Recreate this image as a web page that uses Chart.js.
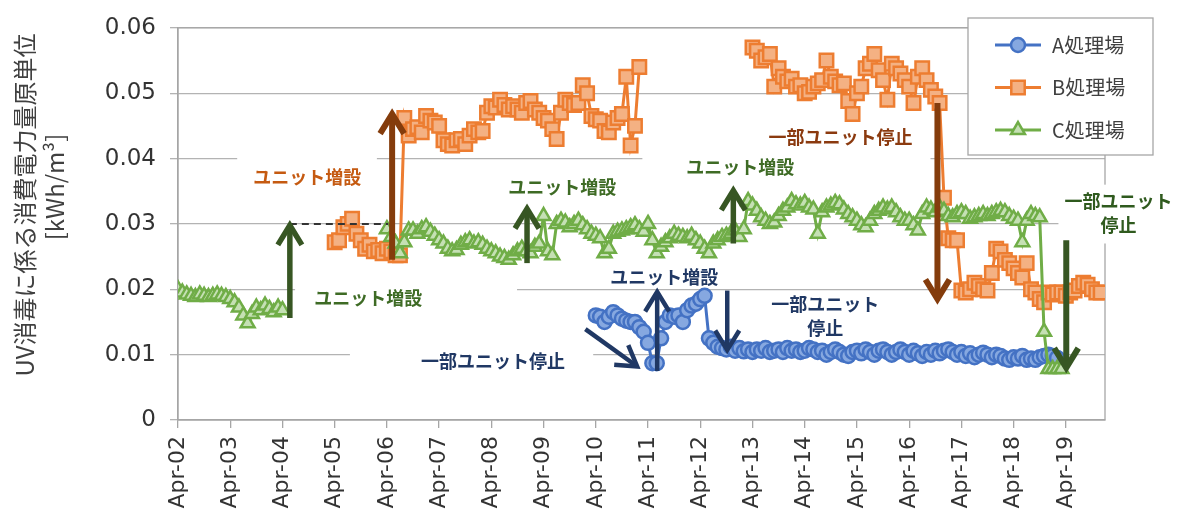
<!DOCTYPE html>
<html lang="ja">
<head>
<meta charset="UTF-8">
<title>UV消毒に係る消費電力量原単位</title>
<script src="https://cdn.jsdelivr.net/npm/chart.js@4.4.1/dist/chart.umd.min.js"></script>
<style>
    html, body { margin: 0; padding: 0; background: #fff; }
    .chart-container { position: relative; width: 1180px; height: 527px; }
</style>
</head>
<body>
<div class="chart-container"><canvas id="uvChart"></canvas></div>
<script>
// x axis = months counted from Apr-02
const yearTicks = [0, 12, 24, 36, 48, 60, 72, 84, 96, 108, 120, 132, 144, 156, 168, 180, 192, 204];
const yearLabels = ['Apr-02', 'Apr-03', 'Apr-04', 'Apr-05', 'Apr-06', 'Apr-07', 'Apr-08', 'Apr-09', 'Apr-10',
    'Apr-11', 'Apr-12', 'Apr-13', 'Apr-14', 'Apr-15', 'Apr-16', 'Apr-17', 'Apr-18', 'Apr-19'];
const seriesNames = ['A処理場', 'B処理場', 'C処理場'];

// A処理場 (from Apr-10)
const aStart = 96;
const aValues = [
    0.0160, 0.0158, 0.0150, 0.0158, 0.0165, 0.0160, 0.0155, 0.0152, 0.0150, 0.0150, 0.0142, 0.0135,
    0.0118, 0.0087, 0.0087, 0.0125, 0.0150, 0.0160, 0.0158, 0.0160, 0.0150, 0.0168, 0.0175, 0.0178,
    0.0185, 0.0190, 0.0125, 0.0118, 0.0112, 0.0110, 0.0108, 0.0112, 0.0106, 0.0110, 0.0105, 0.0108,
    0.0104, 0.0108, 0.0106, 0.0110, 0.0104, 0.0106, 0.0108, 0.0104, 0.0110, 0.0106, 0.0108, 0.0104,
    0.0106, 0.0110, 0.0108, 0.0104, 0.0106, 0.0100, 0.0104, 0.0108, 0.0104, 0.0100, 0.0098, 0.0104,
    0.0106, 0.0102, 0.0108, 0.0104, 0.0100, 0.0106, 0.0108, 0.0104, 0.0100, 0.0104, 0.0108, 0.0104,
    0.0100, 0.0106, 0.0102, 0.0098, 0.0104, 0.0100, 0.0106, 0.0102, 0.0106, 0.0108, 0.0104, 0.0100,
    0.0104, 0.0098, 0.0102, 0.0096, 0.0100, 0.0103, 0.0100, 0.0096, 0.0100, 0.0098, 0.0094, 0.0092,
    0.0096, 0.0094, 0.0098, 0.0092, 0.0094, 0.0092, 0.0096, 0.0098, 0.0100, 0.0098, 0.0095
];

// B処理場 (Apr-05 .. Feb-11, then Apr-13 .. Dec-19)
const bStart1 = 36;
const bValues1 = [
    0.0272, 0.0275, 0.0295, 0.0300, 0.0308, 0.0285, 0.0275, 0.0262, 0.0268, 0.0258, 0.0260, 0.0255,
    0.0262, 0.0258, 0.0252, 0.0252, 0.0462, 0.0435, 0.0445, 0.0448, 0.0440, 0.0465, 0.0458, 0.0455,
    0.0450, 0.0428, 0.0422, 0.0420, 0.0428, 0.0430, 0.0422, 0.0435, 0.0445, 0.0440, 0.0442, 0.0470,
    0.0480, 0.0478, 0.0490, 0.0482, 0.0475, 0.0480, 0.0475, 0.0470, 0.0485, 0.0488, 0.0475, 0.0470,
    0.0462, 0.0458, 0.0445, 0.0430, 0.0470, 0.0490, 0.0485, 0.0482, 0.0485, 0.0512, 0.0500, 0.0465,
    0.0460, 0.0458, 0.0442, 0.0440, 0.0455, 0.0462, 0.0468, 0.0525, 0.0420, 0.0450, 0.0540
];
const bStart2 = 132;
const bValues2 = [
    0.0570, 0.0565, 0.0550, 0.0555, 0.0560, 0.0510, 0.0538, 0.0525, 0.0518, 0.0522, 0.0510, 0.0512,
    0.0500, 0.0502, 0.0510, 0.0515, 0.0520, 0.0550, 0.0525, 0.0518, 0.0512, 0.0515, 0.0488, 0.0468,
    0.0500, 0.0510, 0.0538, 0.0545, 0.0560, 0.0535, 0.0520, 0.0490, 0.0545, 0.0538, 0.0530, 0.0520,
    0.0510, 0.0485, 0.0525, 0.0538, 0.0520, 0.0505, 0.0495, 0.0485, 0.0340, 0.0278, 0.0275, 0.0275,
    0.0198, 0.0195, 0.0200, 0.0210, 0.0205, 0.0200, 0.0198, 0.0225, 0.0262, 0.0258, 0.0245, 0.0240,
    0.0232, 0.0225, 0.0218, 0.0240, 0.0200, 0.0195, 0.0185, 0.0180, 0.0195, 0.0192, 0.0195, 0.0195,
    0.0190, 0.0195, 0.0198, 0.0205, 0.0210, 0.0207, 0.0200, 0.0195, 0.0195
];

// C処理場 (Apr-02 .. Apr-04, then Apr-06 .. Nov-19)
const cStart1 = 0;
const cValues1 = [
    0.0200, 0.0195, 0.0192, 0.0190, 0.0188, 0.0192, 0.0190, 0.0188, 0.0190, 0.0192, 0.0190, 0.0188,
    0.0185, 0.0180, 0.0172, 0.0160, 0.0148, 0.0162, 0.0172, 0.0168, 0.0175, 0.0170, 0.0165, 0.0172,
    0.0168
];
const cStart2 = 48;
const cValues2 = [
    0.0292, 0.0280, 0.0270, 0.0255, 0.0272, 0.0290, 0.0290, 0.0285, 0.0292, 0.0295, 0.0288, 0.0282,
    0.0275, 0.0270, 0.0262, 0.0258, 0.0260, 0.0268, 0.0272, 0.0275, 0.0270, 0.0272, 0.0268, 0.0262,
    0.0258, 0.0255, 0.0250, 0.0248, 0.0245, 0.0252, 0.0258, 0.0262, 0.0258, 0.0255, 0.0265, 0.0270,
    0.0312, 0.0258, 0.0252, 0.0300, 0.0305, 0.0302, 0.0295, 0.0300, 0.0305, 0.0298, 0.0292, 0.0285,
    0.0282, 0.0278, 0.0255, 0.0262, 0.0285, 0.0288, 0.0290, 0.0292, 0.0295, 0.0298, 0.0292, 0.0288,
    0.0300, 0.0275, 0.0255, 0.0265, 0.0272, 0.0278, 0.0285, 0.0282, 0.0280, 0.0278, 0.0282, 0.0275,
    0.0270, 0.0262, 0.0255, 0.0270, 0.0275, 0.0280, 0.0282, 0.0285, 0.0290, 0.0280, 0.0292, 0.0335,
    0.0328, 0.0320, 0.0310, 0.0305, 0.0300, 0.0302, 0.0312, 0.0320, 0.0325, 0.0335, 0.0330, 0.0328,
    0.0332, 0.0325, 0.0322, 0.0285, 0.0318, 0.0325, 0.0328, 0.0332, 0.0330, 0.0322, 0.0315, 0.0310,
    0.0305, 0.0298, 0.0295, 0.0305, 0.0315, 0.0320, 0.0325, 0.0322, 0.0325, 0.0318, 0.0310, 0.0305,
    0.0305, 0.0298, 0.0290, 0.0315, 0.0325, 0.0322, 0.0318, 0.0325, 0.0320, 0.0312, 0.0310, 0.0315,
    0.0318, 0.0315, 0.0308, 0.0310, 0.0312, 0.0315, 0.0312, 0.0315, 0.0318, 0.0320, 0.0318, 0.0312,
    0.0308, 0.0305, 0.0272, 0.0305, 0.0315, 0.0312, 0.0310, 0.0135, 0.0078, 0.0078, 0.0078, 0.0078
];

// annotations, in axis units [month, value]
const arrows = [
    { from: [25.7, 0.0156], to: [25.7, 0.0298], color: '#375623', width: 5.5 },
    { from: [49.2, 0.0245], to: [49.2, 0.0468], color: '#843c0c', width: 6 },
    { from: [80.2, 0.0240], to: [80.2, 0.0323], color: '#375623', width: 5.5 },
    { from: [127.6, 0.0270], to: [127.6, 0.0351], color: '#375623', width: 5.5 },
    { from: [93.6, 0.0139], to: [105.5, 0.0082], color: '#203864', width: 4.5 },
    { from: [110.1, 0.0075], to: [110.1, 0.0196], color: '#203864', width: 4.5 },
    { from: [126.2, 0.0198], to: [126.2, 0.0107], color: '#203864', width: 4.5 },
    { from: [174.5, 0.0485], to: [174.5, 0.0185], color: '#843c0c', width: 6 },
    { from: [204.1, 0.0275], to: [204.1, 0.0080], color: '#375623', width: 6 }
];
const notes = [
    { lines: ['ユニット増設'], m: 29.7, v: 0.0372, color: '#c55a11' },
    { lines: ['ユニット増設'], m: 43.7, v: 0.0186, color: '#3e6b25' },
    { lines: ['一部ユニット停止'], m: 72.4, v: 0.0090, color: '#203864' },
    { lines: ['ユニット増設'], m: 88.3, v: 0.0356, color: '#3e6b25' },
    { lines: ['ユニット増設'], m: 111.7, v: 0.0218, color: '#203864' },
    { lines: ['一部ユニット', '停止'], m: 148.7, v: 0.0177, color: '#203864' },
    { lines: ['ユニット増設'], m: 129.2, v: 0.0387, color: '#3e6b25' },
    { lines: ['一部ユニット停止'], m: 152.2, v: 0.0432, color: '#8b3a0f' },
    { lines: ['一部ユニット', '停止'], m: 216.1, v: 0.0335, color: '#2f5a1e' }
];
// white text boxes that hide grid lines: [m1, m2, v1, v2]
const noteBoxes = [
    [13.6, 45.7, 0.0330, 0.0420],
    [26.9, 77.9, 0.0147, 0.0225],
    [39.5, 95.4, 0.0057, 0.0120],
    [130.3, 167.1, 0.0116, 0.0197],
    [106.7, 172.9, 0.0363, 0.0450],
    [202.3, 229.9, 0.0270, 0.0360]
];
const dashedStep = { m1: 25.7, m2: 48.3, v: 0.0300 };

const toPoints = (start, values) => values.map((v, i) => ({ x: start + i, y: v }));

const tickFont = "'DejaVu Sans', Verdana, sans-serif";
const jpFont = "'Noto Sans CJK JP', 'Noto Sans', sans-serif";

function drawArrow(ctx, x1, y1, x2, y2, color, w) {
    const ang = Math.atan2(y2 - y1, x2 - x1);
    const head = 23, spread = 0.55;
    ctx.save();
    ctx.strokeStyle = color;
    ctx.lineWidth = w;
    ctx.beginPath();
    ctx.moveTo(x1, y1);
    ctx.lineTo(x2 - Math.cos(ang) * 2, y2 - Math.sin(ang) * 2);
    ctx.stroke();
    ctx.lineJoin = 'miter';
    ctx.beginPath();
    ctx.moveTo(x2 - head * Math.cos(ang - spread), y2 - head * Math.sin(ang - spread));
    ctx.lineTo(x2, y2);
    ctx.lineTo(x2 - head * Math.cos(ang + spread), y2 - head * Math.sin(ang + spread));
    ctx.stroke();
    ctx.restore();
}

const annotationPlugin = {
    id: 'annotations',
    beforeDatasetsDraw(chart) {
        const { ctx, chartArea: a, scales: { x, y } } = chart;
        ctx.save();
        // plot border
        ctx.strokeStyle = '#a6a6a6';
        ctx.lineWidth = 1.3;
        ctx.strokeRect(a.left, a.top, a.right - a.left, a.bottom - a.top);
        // text boxes
        ctx.fillStyle = '#fff';
        noteBoxes.forEach(b => {
            const x1 = x.getPixelForValue(b[0]), x2 = x.getPixelForValue(b[1]);
            const y1 = y.getPixelForValue(b[3]), y2 = y.getPixelForValue(b[2]);
            ctx.fillRect(x1, y1, x2 - x1, y2 - y1);
        });
        ctx.restore();
    },
    afterDatasetsDraw(chart) {
        const { ctx, scales: { x, y } } = chart;
        ctx.save();
        // dashed level line
        ctx.strokeStyle = '#333';
        ctx.lineWidth = 2;
        ctx.setLineDash([7, 5]);
        ctx.beginPath();
        ctx.moveTo(x.getPixelForValue(dashedStep.m1), y.getPixelForValue(dashedStep.v));
        ctx.lineTo(x.getPixelForValue(dashedStep.m2), y.getPixelForValue(dashedStep.v));
        ctx.stroke();
        ctx.setLineDash([]);

        arrows.forEach(ar => {
            drawArrow(ctx,
                x.getPixelForValue(ar.from[0]), y.getPixelForValue(ar.from[1]),
                x.getPixelForValue(ar.to[0]), y.getPixelForValue(ar.to[1]),
                ar.color, ar.width);
        });

        ctx.font = 'bold 18px ' + jpFont;
        ctx.textAlign = 'center';
        ctx.textBaseline = 'middle';
        notes.forEach(n => {
            ctx.fillStyle = n.color;
            const cx = x.getPixelForValue(n.m), cy = y.getPixelForValue(n.v);
            n.lines.forEach((t, i) => ctx.fillText(t, cx, cy + i * 24));
        });
        ctx.restore();
    },
    afterDraw(chart) {
        const { ctx } = chart;
        ctx.save();
        // y axis title
        ctx.fillStyle = '#404040';
        ctx.font = '24px ' + jpFont;
        ctx.textAlign = 'center';
        ctx.textBaseline = 'middle';
        ctx.translate(25, 205);
        ctx.rotate(-Math.PI / 2);
        ctx.fillText('UV消毒に係る消費電力量原単位', 0, 0);
        ctx.fillText('[kWh/m³]', 18, 30);
        ctx.restore();

        // legend
        ctx.save();
        ctx.fillStyle = '#fff';
        ctx.fillRect(968, 18, 185, 137);
        ctx.strokeStyle = '#a6a6a6';
        ctx.lineWidth = 1.3;
        ctx.strokeRect(968, 18, 185, 137);
        chart.data.datasets.forEach((ds, i) => {
            const ly = 45 + i * 42.5;
            ctx.strokeStyle = ds.borderColor;
            ctx.lineWidth = ds.borderWidth;
            ctx.beginPath();
            ctx.moveTo(995, ly);
            ctx.lineTo(1041, ly);
            ctx.stroke();
            ctx.fillStyle = ds.pointBackgroundColor;
            ctx.strokeStyle = ds.pointBorderColor;
            ctx.lineWidth = ds.pointBorderWidth;
            Chart.helpers.drawPoint(ctx, {
                pointStyle: ds.pointStyle, radius: ds.pointRadius, rotation: 0, borderWidth: ds.pointBorderWidth
            }, 1018, ly);
            ctx.fillStyle = '#404040';
            ctx.font = '20px ' + jpFont;
            ctx.textAlign = 'left';
            ctx.textBaseline = 'middle';
            ctx.fillText(ds.label, 1052, ly);
        });
        ctx.restore();
    }
};

const ctx = document.getElementById('uvChart').getContext('2d');
new Chart(ctx, {
    type: 'line',
    data: {
        datasets: [
            {
                label: seriesNames[0],
                data: toPoints(aStart, aValues),
                borderColor: '#4472c4',
                borderWidth: 3,
                pointStyle: 'circle',
                pointRadius: 7,
                pointBackgroundColor: '#86a8e0',
                pointBorderColor: '#4472c4',
                pointBorderWidth: 2.5,
                order: 2
            },
            {
                label: seriesNames[1],
                data: [...toPoints(bStart1, bValues1), { x: bStart1 + bValues1.length, y: null }, ...toPoints(bStart2, bValues2)],
                borderColor: '#ed7d31',
                borderWidth: 3,
                pointStyle: 'rect',
                pointRadius: 9.5,
                pointBackgroundColor: '#f4b183',
                pointBorderColor: '#ed7d31',
                pointBorderWidth: 2.5,
                order: 1
            },
            {
                label: seriesNames[2],
                data: [...toPoints(cStart1, cValues1), { x: cStart1 + cValues1.length, y: null }, ...toPoints(cStart2, cValues2)],
                borderColor: '#70ad47',
                borderWidth: 3,
                pointStyle: 'triangle',
                pointRadius: 8,
                pointBackgroundColor: '#c5e0b4',
                pointBorderColor: '#70ad47',
                pointBorderWidth: 2.5,
                order: 0
            }
        ]
    },
    options: {
        responsive: true,
        maintainAspectRatio: false,
        animation: false,
        spanGaps: false,
        layout: { padding: { top: 20, right: 75, bottom: 0, left: 0 } },
        plugins: {
            legend: { display: false },
            tooltip: { enabled: false }
        },
        scales: {
            x: {
                type: 'linear',
                min: 0,
                max: 213,
                afterFit: scale => { scale.height = 107; },
                afterBuildTicks: scale => { scale.ticks = yearTicks.map(v => ({ value: v })); },
                grid: { drawOnChartArea: false, tickLength: 8, color: '#a6a6a6', lineWidth: 1.3 },
                border: { color: '#a6a6a6', width: 1.3 },
                ticks: {
                    autoSkip: false,
                    minRotation: 90,
                    maxRotation: 90,
                    padding: 8,
                    color: '#333',
                    font: { family: tickFont, size: 22 },
                    callback: v => yearLabels[yearTicks.indexOf(v)] ?? ''
                }
            },
            y: {
                min: 0,
                max: 0.06,
                afterFit: scale => { scale.width = 178; },
                grid: { color: '#b3b3b3', lineWidth: 1.3, tickLength: 8 },
                border: { color: '#a6a6a6', width: 1.3 },
                ticks: {
                    stepSize: 0.01,
                    padding: 14,
                    color: '#333',
                    font: { family: tickFont, size: 23 },
                    callback: v => (v === 0 ? '0' : v.toFixed(2))
                }
            }
        }
    },
    plugins: [annotationPlugin]
});
</script>
</body>
</html>
